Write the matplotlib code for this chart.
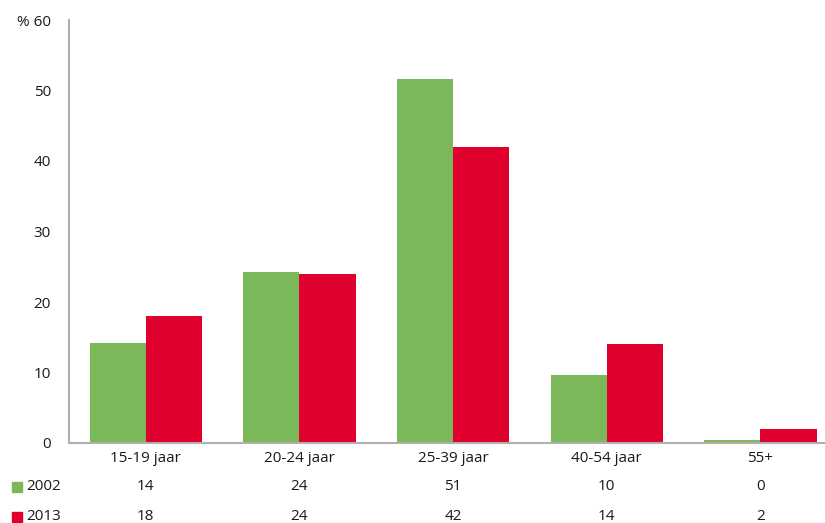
import matplotlib
matplotlib.use("Agg")
import matplotlib.pyplot as plt
import numpy as np
from matplotlib.patches import Rectangle

plt.rcParams['font.family'] = ['Open Sans', 'DejaVu Sans']

categories = ["15-19 jaar", "20-24 jaar", "25-39 jaar", "40-54 jaar", "55+"]
series_names = ["2002", "2013"]
values_2002 = [14.2, 24.3, 51.6, 9.7, 0.4]
values_2013 = [18.0, 24.0, 42.0, 14.0, 2.0]
table_2002 = ["14", "24", "51", "10", "0"]
table_2013 = ["18", "24", "42", "14", "2"]

green = "#7ab859"
red = "#e0002e"
grey = "#b0b0b0"
fs = 11

fig = plt.figure(figsize=(8.25, 5.23), dpi=100)
ax = fig.add_axes([69 / 825, 1 - 443 / 523, 1 - 69 / 825, 423 / 523])

x = np.arange(len(categories))
w = 0.365
ax.bar(x - w / 2, values_2002, w, color=green)
ax.bar(x + w / 2, values_2013, w, color=red)

ax.set_xlim(-0.5, 4.42)
ax.set_ylim(0, 60)
ax.set_yticks([0, 10, 20, 30, 40, 50, 60])
ax.set_yticklabels(["0", "10", "20", "30", "40", "50", "% 60"])
ax.set_xticks(x)
ax.set_xticklabels(categories)
ax.tick_params(length=0, labelsize=fs, colors="#1a1a1a")
ax.tick_params(axis="y", pad=13)
ax.tick_params(axis="x", pad=6)
for s in ["top", "right"]:
    ax.spines[s].set_visible(False)
for s in ["left", "bottom"]:
    ax.spines[s].set_color(grey)
    ax.spines[s].set_linewidth(1.5)

# tabel onder de grafiek
trans = ax.get_xaxis_transform()
rows = [(table_2002, green, series_names[0], -0.103), (table_2013, red, series_names[1], -0.174)]
for labels, col, name, yy in rows:
    for xi, lab in zip(x, labels):
        ax.text(xi, yy, lab, transform=trans, ha="center", va="center",
                fontsize=fs, color="#1a1a1a")
    yf = 1 - (443 - yy * 423) / 523
    fig.patches.append(Rectangle((12 / 825, yf - 5 / 523), 10 / 825, 10 / 523,
                                 transform=fig.transFigure, color=col))
    fig.text(26 / 825, yf, name, ha="left", va="center", fontsize=fs, color="#1a1a1a")

fig.savefig("out.png", dpi=100)
